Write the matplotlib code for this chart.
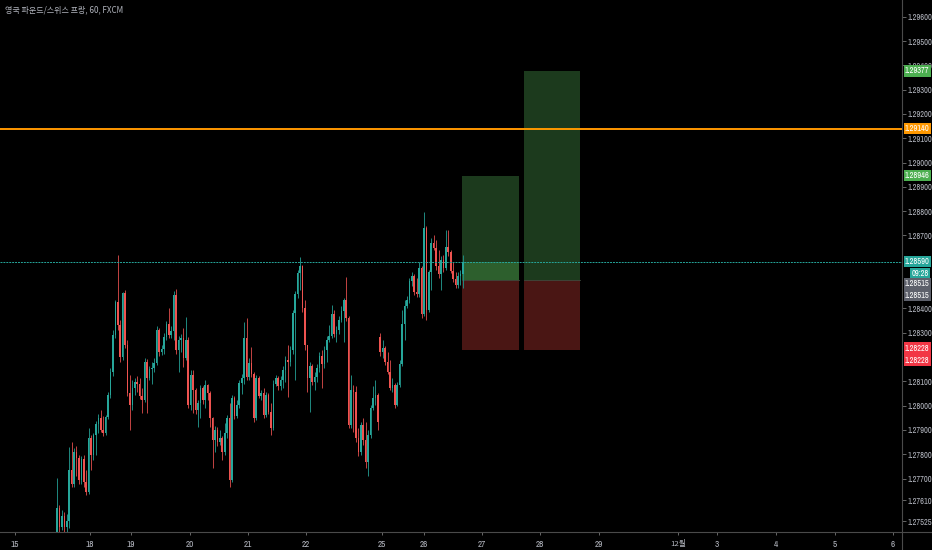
import matplotlib
matplotlib.use('Agg')
import matplotlib.pyplot as plt
from matplotlib.patches import Rectangle
from matplotlib.lines import Line2D
from matplotlib import font_manager as fm
import numpy as np

# ---------------- data (hourly GBP/CHF candles) ----------------
opens = [
1.27480, 1.27579, 1.27500, 1.27546, 1.27500, 1.27525, 1.27735, 1.27677, 1.27809, 1.27784,
1.27694, 1.27780, 1.27686, 1.27644, 1.27867, 1.27797, 1.27879, 1.27924, 1.27949, 1.27900,
1.27887, 1.27953, 1.28044, 1.28138, 1.28290, 1.28426, 1.28332, 1.28200, 1.28463, 1.28249,
1.28052, 1.28002, 1.28072, 1.28097, 1.28089, 1.28039, 1.28023, 1.28179, 1.28113, 1.28151,
1.28155, 1.28175, 1.28311, 1.28220, 1.28233, 1.28282, 1.28336, 1.28290, 1.28307, 1.28455,
1.28229, 1.28270, 1.28278, 1.28196, 1.28270, 1.28002, 1.28126, 1.28064, 1.27982, 1.28011,
1.28072, 1.28023, 1.28085, 1.28052, 1.27949, 1.27858, 1.27899, 1.27850, 1.27867, 1.27809,
1.27887, 1.27949, 1.27694, 1.28031, 1.27957, 1.28002, 1.28093, 1.28113, 1.28278, 1.28118,
1.28175, 1.28130, 1.27949, 1.28113, 1.28039, 1.28052, 1.27961, 1.28044, 1.27974, 1.27908,
1.28089, 1.28113, 1.28081, 1.28105, 1.28146, 1.28188, 1.28179, 1.28229, 1.28381, 1.28459,
1.28546, 1.28574, 1.28402, 1.28249, 1.28113, 1.28163, 1.28097, 1.28118, 1.28155, 1.28204,
1.28171, 1.28229, 1.28270, 1.28286, 1.28377, 1.28295, 1.28311, 1.28352, 1.28389, 1.28434,
1.28360, 1.27920, 1.28064, 1.28056, 1.27867, 1.27809, 1.27920, 1.27858, 1.27768, 1.27879,
1.27990, 1.28031, 1.28044, 1.28282, 1.28220, 1.28237, 1.28179, 1.28138, 1.28072, 1.28085,
1.28002, 1.28085, 1.28171, 1.28336, 1.28410, 1.28434, 1.28513, 1.28533, 1.28467, 1.28459,
1.28566, 1.28377, 1.28731, 1.28393, 1.28550, 1.28669, 1.28648, 1.28574, 1.28541, 1.28599,
1.28566, 1.28653, 1.28632, 1.28554, 1.28521, 1.28496, 1.28533, 1.28541,
]
highs = [
1.27702, 1.27591, 1.27570, 1.27562, 1.27554, 1.27830, 1.27850, 1.27825, 1.27834, 1.27797,
1.27793, 1.27797, 1.27735, 1.27908, 1.27880, 1.27887, 1.27937, 1.27965, 1.27982, 1.27957,
1.27961, 1.28056, 1.28155, 1.28311, 1.28434, 1.28620, 1.28352, 1.28467, 1.28476, 1.28270,
1.28126, 1.28105, 1.28113, 1.28122, 1.28113, 1.28072, 1.28196, 1.28190, 1.28163, 1.28179,
1.28196, 1.28327, 1.28319, 1.28249, 1.28299, 1.28348, 1.28402, 1.28327, 1.28472, 1.28480,
1.28286, 1.28295, 1.28319, 1.28365, 1.28282, 1.28146, 1.28146, 1.28072, 1.28023, 1.28085,
1.28081, 1.28105, 1.28090, 1.28060, 1.27955, 1.27916, 1.27912, 1.27899, 1.27875, 1.27928,
1.27961, 1.28011, 1.28044, 1.28040, 1.28023, 1.28105, 1.28130, 1.28344, 1.28360, 1.28196,
1.28241, 1.28138, 1.28126, 1.28122, 1.28064, 1.28072, 1.28056, 1.28052, 1.28011, 1.28105,
1.28126, 1.28122, 1.28122, 1.28163, 1.28204, 1.28249, 1.28245, 1.28393, 1.28472, 1.28558,
1.28611, 1.28579, 1.28434, 1.28249, 1.28179, 1.28171, 1.28138, 1.28171, 1.28220, 1.28229,
1.28245, 1.28286, 1.28332, 1.28414, 1.28393, 1.28327, 1.28369, 1.28410, 1.28443, 1.28529,
1.28369, 1.28126, 1.28085, 1.28081, 1.27908, 1.27932, 1.27949, 1.27932, 1.27899, 1.28002,
1.28081, 1.28105, 1.28052, 1.28299, 1.28270, 1.28245, 1.28220, 1.28188, 1.28113, 1.28093,
1.28097, 1.28188, 1.28393, 1.28434, 1.28451, 1.28525, 1.28550, 1.28541, 1.28525, 1.28591,
1.28574, 1.28797, 1.28739, 1.28558, 1.28690, 1.28702, 1.28681, 1.28640, 1.28616, 1.28620,
1.28723, 1.28723, 1.28640, 1.28591, 1.28550, 1.28550, 1.28558, 1.28620,
]
lows = [
1.27447, 1.27447, 1.27488, 1.27463, 1.27480, 1.27496, 1.27665, 1.27665, 1.27710, 1.27677,
1.27677, 1.27665, 1.27632, 1.27636, 1.27735, 1.27776, 1.27797, 1.27887, 1.27891, 1.27875,
1.27879, 1.27945, 1.28031, 1.28122, 1.28278, 1.28311, 1.28179, 1.28188, 1.28237, 1.28039,
1.27899, 1.27982, 1.28044, 1.28056, 1.28027, 1.27969, 1.28015, 1.27969, 1.28105, 1.28089,
1.28138, 1.28167, 1.28204, 1.28208, 1.28212, 1.28270, 1.28278, 1.28278, 1.28270, 1.28212,
1.28138, 1.28220, 1.28159, 1.28188, 1.27990, 1.27982, 1.27969, 1.27965, 1.27912, 1.27949,
1.28007, 1.27990, 1.28023, 1.27912, 1.27743, 1.27809, 1.27834, 1.27838, 1.27776, 1.27797,
1.27867, 1.27665, 1.27686, 1.27945, 1.27949, 1.27990, 1.28048, 1.28089, 1.28105, 1.28105,
1.28118, 1.27932, 1.27940, 1.28031, 1.28023, 1.27949, 1.27953, 1.27965, 1.27879, 1.27899,
1.28081, 1.28064, 1.28064, 1.28072, 1.28097, 1.28035, 1.28163, 1.28212, 1.28105, 1.28443,
1.28476, 1.28385, 1.28229, 1.28056, 1.27974, 1.28085, 1.28064, 1.28097, 1.28138, 1.28072,
1.28155, 1.28179, 1.28262, 1.28278, 1.28282, 1.28262, 1.28295, 1.28344, 1.28262, 1.28348,
1.27908, 1.27908, 1.27891, 1.27850, 1.27793, 1.27797, 1.27838, 1.27743, 1.27710, 1.27867,
1.27982, 1.28002, 1.27899, 1.28204, 1.28196, 1.28167, 1.28130, 1.28064, 1.28056, 1.27990,
1.27998, 1.28076, 1.28163, 1.28270, 1.28402, 1.28422, 1.28492, 1.28455, 1.28447, 1.28447,
1.28360, 1.28369, 1.28352, 1.28385, 1.28476, 1.28640, 1.28558, 1.28525, 1.28476, 1.28550,
1.28558, 1.28616, 1.28546, 1.28509, 1.28484, 1.28484, 1.28496, 1.28484,
]
closes = [
1.27579, 1.27500, 1.27546, 1.27500, 1.27525, 1.27735, 1.27677, 1.27809, 1.27784, 1.27694,
1.27780, 1.27686, 1.27644, 1.27867, 1.27797, 1.27879, 1.27924, 1.27949, 1.27900, 1.27887,
1.27953, 1.28044, 1.28138, 1.28290, 1.28426, 1.28332, 1.28200, 1.28463, 1.28249, 1.28052,
1.28002, 1.28072, 1.28097, 1.28089, 1.28039, 1.28023, 1.28179, 1.28113, 1.28151, 1.28155,
1.28175, 1.28311, 1.28220, 1.28233, 1.28282, 1.28336, 1.28290, 1.28307, 1.28455, 1.28229,
1.28270, 1.28278, 1.28196, 1.28270, 1.28002, 1.28126, 1.28064, 1.27982, 1.28011, 1.28072,
1.28023, 1.28085, 1.28052, 1.27949, 1.27858, 1.27899, 1.27850, 1.27867, 1.27809, 1.27887,
1.27949, 1.27694, 1.28031, 1.27957, 1.28002, 1.28093, 1.28113, 1.28278, 1.28118, 1.28175,
1.28130, 1.27949, 1.28113, 1.28039, 1.28052, 1.27961, 1.28044, 1.27974, 1.27908, 1.28089,
1.28113, 1.28081, 1.28105, 1.28146, 1.28188, 1.28179, 1.28229, 1.28381, 1.28459, 1.28546,
1.28574, 1.28402, 1.28249, 1.28113, 1.28163, 1.28097, 1.28118, 1.28155, 1.28204, 1.28171,
1.28229, 1.28270, 1.28286, 1.28377, 1.28295, 1.28311, 1.28352, 1.28389, 1.28434, 1.28360,
1.27920, 1.28064, 1.28056, 1.27867, 1.27809, 1.27920, 1.27858, 1.27768, 1.27879, 1.27990,
1.28031, 1.28044, 1.27932, 1.28220, 1.28237, 1.28179, 1.28138, 1.28072, 1.28085, 1.28002,
1.28085, 1.28171, 1.28336, 1.28410, 1.28434, 1.28513, 1.28533, 1.28467, 1.28459, 1.28566,
1.28377, 1.28731, 1.28393, 1.28550, 1.28669, 1.28648, 1.28574, 1.28541, 1.28599, 1.28566,
1.28653, 1.28632, 1.28554, 1.28521, 1.28496, 1.28533, 1.28541, 1.28590,
]

day_tick_bars = [-17.3, 13.6, 30.5, 54.7, 78.6, 102.5, 133.7, 151.0, 174.9, 198.8,
                 223.0, 255.6, 271.6, 295.9, 320.2, 344.0]
day_tick_labels = ['15', '18', '19', '20', '21', '22', '25', '26', '27', '28',
                   '29', '12월', '3', '4', '5', '6']

price_ticks = [1.29600, 1.29500, 1.29400, 1.29300, 1.29200, 1.29100, 1.29000, 1.28900,
               1.28800, 1.28700, 1.28400, 1.28300, 1.28100, 1.28000,
               1.27900, 1.27800, 1.27700, 1.27610, 1.27525]

title = '영국 파운드/스위스 프랑, 60, FXCM'
resistance = 1.29140
entry = 1.28515
stop = 1.28228
targets = [1.28946, 1.29377]
countdown = '09:28'

# ---------------- fonts ----------------
fs = 6.0
narrow = None
for f in fm.fontManager.ttflist:
    if 'Narrow' in f.name and f.style == 'normal' and f.weight in (400, 'normal', 'regular'):
        narrow = f
        break
if narrow is None:
    for f in fm.fontManager.ttflist:
        if f.name == 'DejaVu Sans' and 'condensed' in str(f.stretch) and f.style == 'normal' \
                and f.weight in (400, 'normal', 'regular'):
            narrow = f
            break
if narrow is not None:
    NUM = fm.FontProperties(fname=narrow.fname, size=fs)
    XNUM = fm.FontProperties(fname=narrow.fname, size=6.6)
else:
    fs = 4.8
    NUM = fm.FontProperties(family='Liberation Sans', size=fs)
    XNUM = fm.FontProperties(family='Liberation Sans', size=fs)
CJK = fm.FontProperties(family='Noto Sans CJK KR', size=5.6)

UP, DN = '#26a69a', '#ef5350'
GRID = '#4a4a4a'
TXT = '#b2b5be'

fig = plt.figure(figsize=(9.32, 5.5), dpi=100, facecolor='#000000')
ax = fig.add_axes([0, 18 / 550, 902 / 932, 532 / 550], facecolor='#000000')

o = np.array(opens); h = np.array(highs); l = np.array(lows); c = np.array(closes)
x = np.arange(len(c))
up = c >= o
cols = np.where(up, UP, DN)
wick_cols = np.where(up, '#1f8a80', '#c44443')
lo_b = np.minimum(o, c)
hb = np.maximum(np.abs(c - o), 0.00002)
ax.vlines(x, np.minimum(l, lo_b), np.maximum(h, np.maximum(o, c)),
          colors=wick_cols, linewidth=0.7, zorder=3)
ax.bar(x, hb, bottom=lo_b, width=0.66, color=cols, linewidth=0, zorder=4)

ax.set_xlim(-23.46, 347.7)
ax.set_ylim(1.27480, 1.29669)

# position tools
box_starts = [166.8, 192.2]
box_widths = [23.3, 22.9]
cur = c[-1]
for i, (bx, bw) in enumerate(zip(box_starts, box_widths)):
    ax.add_patch(Rectangle((bx, entry), bw, targets[i] - entry, facecolor='#1c3a1d',
                           edgecolor='none', zorder=2))
    ax.add_patch(Rectangle((bx, stop), bw, entry - stop, facecolor='#4a1614',
                           edgecolor='none', zorder=2))
    if i == 0:
        ax.add_patch(Rectangle((bx, entry), bw, cur - entry, facecolor='#2d5f2d',
                               edgecolor='none', zorder=2.1))
    ax.plot([bx, bx + bw], [entry, entry], color='#3d4a3d', lw=0.6, zorder=2.2)

ax.axhline(resistance, color='#ff9800', lw=1.4, zorder=5)
ax.axhline(cur, color='#26a69a', lw=0.7, ls=(0, (2, 1)), zorder=5)

for s in ax.spines.values():
    s.set_visible(False)

ax.yaxis.tick_right()
ax.set_yticks(price_ticks)
ax.set_yticklabels(['%.5f' % p for p in price_ticks])
ax.tick_params(axis='y', colors='#777777', labelcolor=TXT, length=3,
               width=0.6, pad=1.0)
ax.set_xticks(day_tick_bars)
ax.set_xticklabels(day_tick_labels)
ax.tick_params(axis='x', colors='#777777', labelcolor=TXT, length=2,
               width=0.6, pad=3.5)
for lbl in ax.get_yticklabels():
    lbl.set_fontproperties(NUM)
for lbl in ax.get_xticklabels():
    if lbl.get_text().isdigit():
        lbl.set_fontproperties(XNUM)
    else:
        lbl.set_fontproperties(CJK)

fig.add_artist(Line2D([0, 1], [18 / 550, 18 / 550], color=GRID, lw=0.8))
fig.add_artist(Line2D([902 / 932, 902 / 932], [0, 1], color=GRID, lw=0.8))

def price_label(price, text, fc, dy_px=0.0, tc='white', dx_pt=2.2):
    ax.annotate(text, xy=(1.0, price), xycoords=ax.get_yaxis_transform(),
                xytext=(dx_pt, -dy_px * 0.72), textcoords='offset points',
                ha='left', va='center', fontproperties=NUM, color=tc,
                bbox=dict(boxstyle='square,pad=0.15', fc=fc, ec='none'),
                annotation_clip=False, zorder=20)

price_label(targets[1], '%.5f' % targets[1], '#4caf50')
price_label(resistance, '%.5f' % resistance, '#ff9800')
price_label(targets[0], '%.5f' % targets[0], '#4caf50')
price_label(cur, '%.5f' % cur, '#26a69a', dy_px=-0.5)
price_label(cur, countdown, '#26a69a', dy_px=11.5, dx_pt=7.0)
price_label(entry, '%.5f' % entry, '#5d606b', dy_px=3.5)
price_label(entry, '%.5f' % entry, '#5d606b', dy_px=15)
price_label(stop, '%.5f' % stop, '#f23645', dy_px=-2)
price_label(stop, '%.5f' % stop, '#f23645', dy_px=10)

fig.text(5 / 932, 1 - 10 / 550, title, fontsize=5.8, color=TXT,
         family=['Noto Sans CJK KR', 'DejaVu Sans'], va='center', ha='left')

fig.savefig('out.png', dpi=100, facecolor='#000000')
